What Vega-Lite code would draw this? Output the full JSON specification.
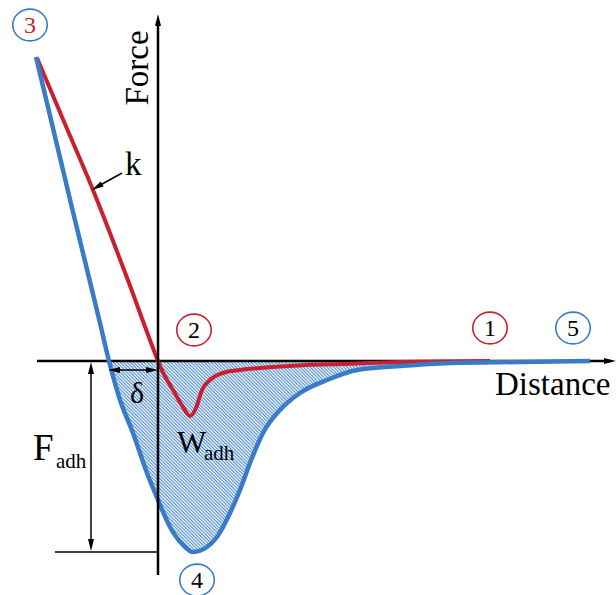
{
  "$schema": "https://vega.github.io/schema/vega-lite/v6.json",
  "width": 616,
  "height": 595,
  "padding": 0,
  "autosize": "none",
  "background": "white",
  "config": {"view": {"stroke": null}},
  "datasets": {
    "red": [
      {"x": -121, "y": 303}, {"x": -93, "y": 237}, {"x": -65, "y": 171}, {"x": -32, "y": 86},
      {"x": 0, "y": 0}, {"x": 2, "y": -5},
      {"x": 15, "y": -29}, {"x": 25, "y": -46}, {"x": 32, "y": -55}, {"x": 38, "y": -47},
      {"x": 44, "y": -29}, {"x": 52, "y": -19}, {"x": 65, "y": -12}, {"x": 82, "y": -9},
      {"x": 115, "y": -6}, {"x": 149, "y": -4}, {"x": 182, "y": -3}, {"x": 242, "y": -1},
      {"x": 332, "y": 0}
    ],
    "blue": [
      {"x": -122, "y": 304}, {"x": -85, "y": 149}, {"x": -58, "y": 38},
      {"x": -49, "y": 0}, {"x": -38, "y": -39}, {"x": -25, "y": -72}, {"x": -11, "y": -112},
      {"x": 0, "y": -139}, {"x": 12, "y": -166}, {"x": 25, "y": -184}, {"x": 35, "y": -191},
      {"x": 49, "y": -186}, {"x": 59, "y": -176}, {"x": 72, "y": -152}, {"x": 82, "y": -129},
      {"x": 92, "y": -102}, {"x": 105, "y": -72}, {"x": 122, "y": -49}, {"x": 142, "y": -32},
      {"x": 169, "y": -19}, {"x": 199, "y": -9}, {"x": 242, "y": -5}, {"x": 292, "y": -2},
      {"x": 362, "y": -1}, {"x": 432, "y": 0}
    ],
    "segments": [
      {"kind": "haxis", "x": -121, "y": 0, "x2": 452, "y2": 0},
      {"kind": "vaxis", "x": 0, "y": -214, "x2": 0, "y2": 340},
      {"kind": "note", "x": -36, "y": 188, "x2": -63, "y2": 173},
      {"kind": "note", "x": -44, "y": -9, "x2": -6, "y2": -9},
      {"kind": "note", "x": -67, "y": -7, "x2": -67, "y2": -184},
      {"kind": "note", "x": -103, "y": -191, "x2": 0, "y2": -191}
    ],
    "heads": [
      {"x": 452, "y": 0, "angle": 90},
      {"x": 0, "y": 341, "angle": 0},
      {"x": -61, "y": 174, "angle": 240},
      {"x": -44, "y": -9, "angle": 270},
      {"x": -6, "y": -9, "angle": 90},
      {"x": -67, "y": -7, "angle": 0},
      {"x": -67, "y": -184, "angle": 180}
    ],
    "circles": [
      {"n": "3", "x": -128, "y": 336, "ring": "retract", "ink": "approach"},
      {"n": "2", "x": 36, "y": 31, "ring": "approach", "ink": "plain"},
      {"n": "1", "x": 332, "y": 33, "ring": "approach", "ink": "plain"},
      {"n": "5", "x": 415, "y": 33, "ring": "retract", "ink": "plain"},
      {"n": "4", "x": 39, "y": -219, "ring": "retract", "ink": "plain"}
    ],
    "labels": [
      {"t": "Force", "x": -10, "y": 293, "role": "vertical"},
      {"t": "Distance", "x": 337, "y": -34, "role": "big"},
      {"t": "k", "x": -33, "y": 186, "role": "big"},
      {"t": "δ", "x": -28, "y": -42, "role": "delta"},
      {"t": "F", "x": -125, "y": -99, "role": "F"},
      {"t": "adh", "x": -102, "y": -107, "role": "sub"},
      {"t": "W", "x": 19, "y": -92, "role": "W"},
      {"t": "adh", "x": 46, "y": -99, "role": "sub"}
    ]
  },
  "encoding": {
    "x": {"field": "x", "type": "quantitative", "scale": {"domain": [-158, 458], "nice": false, "zero": false}, "axis": null},
    "y": {"field": "y", "type": "quantitative", "scale": {"domain": [-234, 361], "nice": false, "zero": false}, "axis": null}
  },
  "layer": [
    {
      "data": {"name": "blue"},
      "transform": [{"filter": "datum.x >= -49"}],
      "mark": {
        "type": "area",
        "interpolate": "monotone",
        "fill": {
          "gradient": "linear", "x1": 0, "y1": 1, "x2": 1.207, "y2": 0.518,
          "stops": [
            {"offset":0,"color":"#5590d2"},{"offset":0.0025,"color":"#fff"},{"offset":0.005,"color":"#5590d2"},{"offset":0.0075,"color":"#fff"},
            {"offset":0.01,"color":"#5590d2"},{"offset":0.0125,"color":"#fff"},{"offset":0.015,"color":"#5590d2"},{"offset":0.0175,"color":"#fff"},
            {"offset":0.02,"color":"#5590d2"},{"offset":0.0225,"color":"#fff"},{"offset":0.025,"color":"#5590d2"},{"offset":0.0275,"color":"#fff"},
            {"offset":0.03,"color":"#5590d2"},{"offset":0.0325,"color":"#fff"},{"offset":0.035,"color":"#5590d2"},{"offset":0.0375,"color":"#fff"},
            {"offset":0.04,"color":"#5590d2"},{"offset":0.0425,"color":"#fff"},{"offset":0.045,"color":"#5590d2"},{"offset":0.0475,"color":"#fff"},
            {"offset":0.05,"color":"#5590d2"},{"offset":0.0525,"color":"#fff"},{"offset":0.055,"color":"#5590d2"},{"offset":0.0575,"color":"#fff"},
            {"offset":0.06,"color":"#5590d2"},{"offset":0.0625,"color":"#fff"},{"offset":0.065,"color":"#5590d2"},{"offset":0.0675,"color":"#fff"},
            {"offset":0.07,"color":"#5590d2"},{"offset":0.0725,"color":"#fff"},{"offset":0.075,"color":"#5590d2"},{"offset":0.0775,"color":"#fff"},
            {"offset":0.08,"color":"#5590d2"},{"offset":0.0825,"color":"#fff"},{"offset":0.085,"color":"#5590d2"},{"offset":0.0875,"color":"#fff"},
            {"offset":0.09,"color":"#5590d2"},{"offset":0.0925,"color":"#fff"},{"offset":0.095,"color":"#5590d2"},{"offset":0.0975,"color":"#fff"},
            {"offset":0.10,"color":"#5590d2"},{"offset":0.1025,"color":"#fff"},{"offset":0.105,"color":"#5590d2"},{"offset":0.1075,"color":"#fff"},
            {"offset":0.11,"color":"#5590d2"},{"offset":0.1125,"color":"#fff"},{"offset":0.115,"color":"#5590d2"},{"offset":0.1175,"color":"#fff"},
            {"offset":0.12,"color":"#5590d2"},{"offset":0.1225,"color":"#fff"},{"offset":0.125,"color":"#5590d2"},{"offset":0.1275,"color":"#fff"},
            {"offset":0.13,"color":"#5590d2"},{"offset":0.1325,"color":"#fff"},{"offset":0.135,"color":"#5590d2"},{"offset":0.1375,"color":"#fff"},
            {"offset":0.14,"color":"#5590d2"},{"offset":0.1425,"color":"#fff"},{"offset":0.145,"color":"#5590d2"},{"offset":0.1475,"color":"#fff"},
            {"offset":0.15,"color":"#5590d2"},{"offset":0.1525,"color":"#fff"},{"offset":0.155,"color":"#5590d2"},{"offset":0.1575,"color":"#fff"},
            {"offset":0.16,"color":"#5590d2"},{"offset":0.1625,"color":"#fff"},{"offset":0.165,"color":"#5590d2"},{"offset":0.1675,"color":"#fff"},
            {"offset":0.17,"color":"#5590d2"},{"offset":0.1725,"color":"#fff"},{"offset":0.175,"color":"#5590d2"},{"offset":0.1775,"color":"#fff"},
            {"offset":0.18,"color":"#5590d2"},{"offset":0.1825,"color":"#fff"},{"offset":0.185,"color":"#5590d2"},{"offset":0.1875,"color":"#fff"},
            {"offset":0.19,"color":"#5590d2"},{"offset":0.1925,"color":"#fff"},{"offset":0.195,"color":"#5590d2"},{"offset":0.1975,"color":"#fff"},
            {"offset":0.20,"color":"#5590d2"},{"offset":0.2025,"color":"#fff"},{"offset":0.205,"color":"#5590d2"},{"offset":0.2075,"color":"#fff"},
            {"offset":0.21,"color":"#5590d2"},{"offset":0.2125,"color":"#fff"},{"offset":0.215,"color":"#5590d2"},{"offset":0.2175,"color":"#fff"},
            {"offset":0.22,"color":"#5590d2"},{"offset":0.2225,"color":"#fff"},{"offset":0.225,"color":"#5590d2"},{"offset":0.2275,"color":"#fff"},
            {"offset":0.23,"color":"#5590d2"},{"offset":0.2325,"color":"#fff"},{"offset":0.235,"color":"#5590d2"},{"offset":0.2375,"color":"#fff"},
            {"offset":0.24,"color":"#5590d2"},{"offset":0.2425,"color":"#fff"},{"offset":0.245,"color":"#5590d2"},{"offset":0.2475,"color":"#fff"},
            {"offset":0.25,"color":"#5590d2"},{"offset":0.2525,"color":"#fff"},{"offset":0.255,"color":"#5590d2"},{"offset":0.2575,"color":"#fff"},
            {"offset":0.26,"color":"#5590d2"},{"offset":0.2625,"color":"#fff"},{"offset":0.265,"color":"#5590d2"},{"offset":0.2675,"color":"#fff"},
            {"offset":0.27,"color":"#5590d2"},{"offset":0.2725,"color":"#fff"},{"offset":0.275,"color":"#5590d2"},{"offset":0.2775,"color":"#fff"},
            {"offset":0.28,"color":"#5590d2"},{"offset":0.2825,"color":"#fff"},{"offset":0.285,"color":"#5590d2"},{"offset":0.2875,"color":"#fff"},
            {"offset":0.29,"color":"#5590d2"},{"offset":0.2925,"color":"#fff"},{"offset":0.295,"color":"#5590d2"},{"offset":0.2975,"color":"#fff"},
            {"offset":0.30,"color":"#5590d2"},{"offset":0.3025,"color":"#fff"},{"offset":0.305,"color":"#5590d2"},{"offset":0.3075,"color":"#fff"},
            {"offset":0.31,"color":"#5590d2"},{"offset":0.3125,"color":"#fff"},{"offset":0.315,"color":"#5590d2"},{"offset":0.3175,"color":"#fff"},
            {"offset":0.32,"color":"#5590d2"},{"offset":0.3225,"color":"#fff"},{"offset":0.325,"color":"#5590d2"},{"offset":0.3275,"color":"#fff"},
            {"offset":0.33,"color":"#5590d2"},{"offset":0.3325,"color":"#fff"},{"offset":0.335,"color":"#5590d2"},{"offset":0.3375,"color":"#fff"},
            {"offset":0.34,"color":"#5590d2"},{"offset":0.3425,"color":"#fff"},{"offset":0.345,"color":"#5590d2"},{"offset":0.3475,"color":"#fff"},
            {"offset":0.35,"color":"#5590d2"},{"offset":0.3525,"color":"#fff"},{"offset":0.355,"color":"#5590d2"},{"offset":0.3575,"color":"#fff"},
            {"offset":0.36,"color":"#5590d2"},{"offset":0.3625,"color":"#fff"},{"offset":0.365,"color":"#5590d2"},{"offset":0.3675,"color":"#fff"},
            {"offset":0.37,"color":"#5590d2"},{"offset":0.3725,"color":"#fff"},{"offset":0.375,"color":"#5590d2"},{"offset":0.3775,"color":"#fff"},
            {"offset":0.38,"color":"#5590d2"},{"offset":0.3825,"color":"#fff"},{"offset":0.385,"color":"#5590d2"},{"offset":0.3875,"color":"#fff"},
            {"offset":0.39,"color":"#5590d2"},{"offset":0.3925,"color":"#fff"},{"offset":0.395,"color":"#5590d2"},{"offset":0.3975,"color":"#fff"},
            {"offset":0.40,"color":"#5590d2"},{"offset":0.4025,"color":"#fff"},{"offset":0.405,"color":"#5590d2"},{"offset":0.4075,"color":"#fff"},
            {"offset":0.41,"color":"#5590d2"},{"offset":0.4125,"color":"#fff"},{"offset":0.415,"color":"#5590d2"},{"offset":0.4175,"color":"#fff"},
            {"offset":0.42,"color":"#5590d2"},{"offset":0.4225,"color":"#fff"},{"offset":0.425,"color":"#5590d2"},{"offset":0.4275,"color":"#fff"},
            {"offset":0.43,"color":"#5590d2"},{"offset":0.4325,"color":"#fff"},{"offset":0.435,"color":"#5590d2"},{"offset":0.4375,"color":"#fff"},
            {"offset":0.44,"color":"#5590d2"},{"offset":0.4425,"color":"#fff"},{"offset":0.445,"color":"#5590d2"},{"offset":0.4475,"color":"#fff"},
            {"offset":0.45,"color":"#5590d2"},{"offset":0.4525,"color":"#fff"},{"offset":0.455,"color":"#5590d2"},{"offset":0.4575,"color":"#fff"},
            {"offset":0.46,"color":"#5590d2"},{"offset":0.4625,"color":"#fff"},{"offset":0.465,"color":"#5590d2"},{"offset":0.4675,"color":"#fff"},
            {"offset":0.47,"color":"#5590d2"},{"offset":0.4725,"color":"#fff"},{"offset":0.475,"color":"#5590d2"},{"offset":0.4775,"color":"#fff"},
            {"offset":0.48,"color":"#5590d2"},{"offset":0.4825,"color":"#fff"},{"offset":0.485,"color":"#5590d2"},{"offset":0.4875,"color":"#fff"},
            {"offset":0.49,"color":"#5590d2"},{"offset":0.4925,"color":"#fff"},{"offset":0.495,"color":"#5590d2"},{"offset":0.4975,"color":"#fff"},
            {"offset":0.50,"color":"#5590d2"},{"offset":0.5025,"color":"#fff"},{"offset":0.505,"color":"#5590d2"},{"offset":0.5075,"color":"#fff"},
            {"offset":0.51,"color":"#5590d2"},{"offset":0.5125,"color":"#fff"},{"offset":0.515,"color":"#5590d2"},{"offset":0.5175,"color":"#fff"},
            {"offset":0.52,"color":"#5590d2"},{"offset":0.5225,"color":"#fff"},{"offset":0.525,"color":"#5590d2"},{"offset":0.5275,"color":"#fff"},
            {"offset":0.53,"color":"#5590d2"},{"offset":0.5325,"color":"#fff"},{"offset":0.535,"color":"#5590d2"},{"offset":0.5375,"color":"#fff"},
            {"offset":0.54,"color":"#5590d2"},{"offset":0.5425,"color":"#fff"},{"offset":0.545,"color":"#5590d2"},{"offset":0.5475,"color":"#fff"},
            {"offset":0.55,"color":"#5590d2"},{"offset":0.5525,"color":"#fff"},{"offset":0.555,"color":"#5590d2"},{"offset":0.5575,"color":"#fff"},
            {"offset":0.56,"color":"#5590d2"},{"offset":0.5625,"color":"#fff"},{"offset":0.565,"color":"#5590d2"},{"offset":0.5675,"color":"#fff"},
            {"offset":0.57,"color":"#5590d2"},{"offset":0.5725,"color":"#fff"},{"offset":0.575,"color":"#5590d2"},{"offset":0.5775,"color":"#fff"},
            {"offset":0.58,"color":"#5590d2"},{"offset":0.5825,"color":"#fff"},{"offset":0.585,"color":"#5590d2"},{"offset":0.5875,"color":"#fff"},
            {"offset":0.59,"color":"#5590d2"},{"offset":0.5925,"color":"#fff"},{"offset":0.595,"color":"#5590d2"},{"offset":0.5975,"color":"#fff"},
            {"offset":0.60,"color":"#5590d2"},{"offset":0.6025,"color":"#fff"},{"offset":0.605,"color":"#5590d2"},{"offset":0.6075,"color":"#fff"},
            {"offset":0.61,"color":"#5590d2"},{"offset":0.6125,"color":"#fff"},{"offset":0.615,"color":"#5590d2"},{"offset":0.6175,"color":"#fff"},
            {"offset":0.62,"color":"#5590d2"},{"offset":0.6225,"color":"#fff"},{"offset":0.625,"color":"#5590d2"},{"offset":0.6275,"color":"#fff"},
            {"offset":0.63,"color":"#5590d2"},{"offset":0.6325,"color":"#fff"},{"offset":0.635,"color":"#5590d2"},{"offset":0.6375,"color":"#fff"},
            {"offset":0.64,"color":"#5590d2"},{"offset":0.6425,"color":"#fff"},{"offset":0.645,"color":"#5590d2"},{"offset":0.6475,"color":"#fff"},
            {"offset":0.65,"color":"#5590d2"},{"offset":0.6525,"color":"#fff"},{"offset":0.655,"color":"#5590d2"},{"offset":0.6575,"color":"#fff"},
            {"offset":0.66,"color":"#5590d2"},{"offset":0.6625,"color":"#fff"},{"offset":0.665,"color":"#5590d2"},{"offset":0.6675,"color":"#fff"},
            {"offset":0.67,"color":"#5590d2"},{"offset":0.6725,"color":"#fff"},{"offset":0.675,"color":"#5590d2"},{"offset":0.6775,"color":"#fff"},
            {"offset":0.68,"color":"#5590d2"},{"offset":0.6825,"color":"#fff"},{"offset":0.685,"color":"#5590d2"},{"offset":0.6875,"color":"#fff"},
            {"offset":0.69,"color":"#5590d2"},{"offset":0.6925,"color":"#fff"},{"offset":0.695,"color":"#5590d2"},{"offset":0.6975,"color":"#fff"},
            {"offset":0.70,"color":"#5590d2"},{"offset":0.7025,"color":"#fff"},{"offset":0.705,"color":"#5590d2"},{"offset":0.7075,"color":"#fff"},
            {"offset":0.71,"color":"#5590d2"},{"offset":0.7125,"color":"#fff"},{"offset":0.715,"color":"#5590d2"},{"offset":0.7175,"color":"#fff"},
            {"offset":0.72,"color":"#5590d2"},{"offset":0.7225,"color":"#fff"},{"offset":0.725,"color":"#5590d2"},{"offset":0.7275,"color":"#fff"},
            {"offset":0.73,"color":"#5590d2"},{"offset":0.7325,"color":"#fff"},{"offset":0.735,"color":"#5590d2"},{"offset":0.7375,"color":"#fff"},
            {"offset":0.74,"color":"#5590d2"},{"offset":0.7425,"color":"#fff"},{"offset":0.745,"color":"#5590d2"},{"offset":0.7475,"color":"#fff"},
            {"offset":0.75,"color":"#5590d2"},{"offset":0.7525,"color":"#fff"},{"offset":0.755,"color":"#5590d2"},{"offset":0.7575,"color":"#fff"},
            {"offset":0.76,"color":"#5590d2"},{"offset":0.7625,"color":"#fff"},{"offset":0.765,"color":"#5590d2"},{"offset":0.7675,"color":"#fff"},
            {"offset":0.77,"color":"#5590d2"},{"offset":0.7725,"color":"#fff"},{"offset":0.775,"color":"#5590d2"},{"offset":0.7775,"color":"#fff"},
            {"offset":0.78,"color":"#5590d2"},{"offset":0.7825,"color":"#fff"},{"offset":0.785,"color":"#5590d2"},{"offset":0.7875,"color":"#fff"},
            {"offset":0.79,"color":"#5590d2"},{"offset":0.7925,"color":"#fff"},{"offset":0.795,"color":"#5590d2"},{"offset":0.7975,"color":"#fff"},
            {"offset":0.80,"color":"#5590d2"},{"offset":0.8025,"color":"#fff"},{"offset":0.805,"color":"#5590d2"},{"offset":0.8075,"color":"#fff"},
            {"offset":0.81,"color":"#5590d2"},{"offset":0.8125,"color":"#fff"},{"offset":0.815,"color":"#5590d2"},{"offset":0.8175,"color":"#fff"},
            {"offset":0.82,"color":"#5590d2"},{"offset":0.8225,"color":"#fff"},{"offset":0.825,"color":"#5590d2"},{"offset":0.8275,"color":"#fff"},
            {"offset":0.83,"color":"#5590d2"},{"offset":0.8325,"color":"#fff"},{"offset":0.835,"color":"#5590d2"},{"offset":0.8375,"color":"#fff"},
            {"offset":0.84,"color":"#5590d2"},{"offset":0.8425,"color":"#fff"},{"offset":0.845,"color":"#5590d2"},{"offset":0.8475,"color":"#fff"},
            {"offset":0.85,"color":"#5590d2"},{"offset":0.8525,"color":"#fff"},{"offset":0.855,"color":"#5590d2"},{"offset":0.8575,"color":"#fff"},
            {"offset":0.86,"color":"#5590d2"},{"offset":0.8625,"color":"#fff"},{"offset":0.865,"color":"#5590d2"},{"offset":0.8675,"color":"#fff"},
            {"offset":0.87,"color":"#5590d2"},{"offset":0.8725,"color":"#fff"},{"offset":0.875,"color":"#5590d2"},{"offset":0.8775,"color":"#fff"},
            {"offset":0.88,"color":"#5590d2"},{"offset":0.8825,"color":"#fff"},{"offset":0.885,"color":"#5590d2"},{"offset":0.8875,"color":"#fff"},
            {"offset":0.89,"color":"#5590d2"},{"offset":0.8925,"color":"#fff"},{"offset":0.895,"color":"#5590d2"},{"offset":0.8975,"color":"#fff"},
            {"offset":0.90,"color":"#5590d2"},{"offset":0.9025,"color":"#fff"},{"offset":0.905,"color":"#5590d2"},{"offset":0.9075,"color":"#fff"},
            {"offset":0.91,"color":"#5590d2"},{"offset":0.9125,"color":"#fff"},{"offset":0.915,"color":"#5590d2"},{"offset":0.9175,"color":"#fff"},
            {"offset":0.92,"color":"#5590d2"},{"offset":0.9225,"color":"#fff"},{"offset":0.925,"color":"#5590d2"},{"offset":0.9275,"color":"#fff"},
            {"offset":0.93,"color":"#5590d2"},{"offset":0.9325,"color":"#fff"},{"offset":0.935,"color":"#5590d2"},{"offset":0.9375,"color":"#fff"},
            {"offset":0.94,"color":"#5590d2"},{"offset":0.9425,"color":"#fff"},{"offset":0.945,"color":"#5590d2"},{"offset":0.9475,"color":"#fff"},
            {"offset":0.95,"color":"#5590d2"},{"offset":0.9525,"color":"#fff"},{"offset":0.955,"color":"#5590d2"},{"offset":0.9575,"color":"#fff"},
            {"offset":0.96,"color":"#5590d2"},{"offset":0.9625,"color":"#fff"},{"offset":0.965,"color":"#5590d2"},{"offset":0.9675,"color":"#fff"},
            {"offset":0.97,"color":"#5590d2"},{"offset":0.9725,"color":"#fff"},{"offset":0.975,"color":"#5590d2"},{"offset":0.9775,"color":"#fff"},
            {"offset":0.98,"color":"#5590d2"},{"offset":0.9825,"color":"#fff"},{"offset":0.985,"color":"#5590d2"},{"offset":0.9875,"color":"#fff"},
            {"offset":0.99,"color":"#5590d2"},{"offset":0.9925,"color":"#fff"},{"offset":0.995,"color":"#5590d2"},{"offset":0.9975,"color":"#fff"},
            {"offset":1,"color":"#5590d2"}
          ]
        }
      },
      "encoding": {"y2": {"datum": 0}}
    },
    {
      "data": {"name": "segments"},
      "transform": [{"filter": "datum.kind == 'haxis'"}],
      "mark": {"type": "rule", "color": "#000000", "strokeWidth": 2.5},
      "encoding": {"x2": {"field": "x2"}, "y2": {"field": "y2"}}
    },
    {
      "data": {"name": "red"},
      "mark": {"type": "line", "color": "#c8202e", "strokeWidth": 4, "interpolate": "monotone", "strokeJoin": "round", "strokeCap": "butt"},
      "encoding": {}
    },
    {
      "data": {"name": "blue"},
      "mark": {"type": "line", "color": "#3a7bc8", "strokeWidth": 4.5, "interpolate": "monotone", "strokeJoin": "round"},
      "encoding": {}
    },
    {
      "data": {"name": "segments"},
      "transform": [{"filter": "datum.kind == 'vaxis'"}],
      "mark": {"type": "rule", "color": "#000000", "strokeWidth": 2.5},
      "encoding": {"x2": {"field": "x2"}, "y2": {"field": "y2"}}
    },
    {
      "data": {"name": "segments"},
      "transform": [{"filter": "datum.kind == 'note'"}],
      "mark": {"type": "rule", "color": "#000000", "strokeWidth": 1.5},
      "encoding": {"x2": {"field": "x2"}, "y2": {"field": "y2"}}
    },
    {
      "data": {"name": "heads"},
      "mark": {"type": "point", "shape": "M0,-1L0.5,1L-0.5,1Z", "filled": true, "color": "#000000", "size": 144, "opacity": 1},
      "encoding": {"angle": {"field": "angle", "type": "quantitative", "scale": null}}
    },
    {
      "data": {"name": "circles"},
      "mark": {"type": "point", "shape": "M-1,0A1,0.92 0 1,1 1,0A1,0.92 0 1,1 -1,0Z", "filled": false, "size": 1190, "strokeWidth": 1.6, "opacity": 1},
      "encoding": {
        "color": {"field": "ring", "type": "nominal", "scale": {"domain": ["approach", "retract", "plain"], "range": ["#c8202e", "#3a7bc8", "#000000"]}, "legend": null}
      }
    },
    {
      "data": {"name": "circles"},
      "mark": {"type": "text", "font": "Liberation Serif", "fontSize": 24, "align": "center", "baseline": "middle", "dy": 1},
      "encoding": {
        "text": {"field": "n"},
        "color": {"field": "ink", "type": "nominal", "scale": {"domain": ["approach", "retract", "plain"], "range": ["#c8202e", "#3a7bc8", "#000000"]}, "legend": null}
      }
    },
    {
      "data": {"name": "labels"},
      "transform": [{"filter": "datum.role == 'vertical'"}],
      "mark": {"type": "text", "font": "Liberation Serif", "fontSize": 33, "align": "center", "baseline": "alphabetic", "angle": 270, "color": "#000000"},
      "encoding": {"text": {"field": "t"}}
    },
    {
      "data": {"name": "labels"},
      "transform": [{"filter": "datum.role == 'big'"}],
      "mark": {"type": "text", "font": "Liberation Serif", "fontSize": 33, "align": "left", "baseline": "alphabetic", "color": "#000000"},
      "encoding": {"text": {"field": "t"}}
    },
    {
      "data": {"name": "labels"},
      "transform": [{"filter": "datum.role == 'delta'"}],
      "mark": {"type": "text", "font": "Liberation Serif", "fontSize": 30, "align": "left", "baseline": "alphabetic", "color": "#000000"},
      "encoding": {"text": {"field": "t"}}
    },
    {
      "data": {"name": "labels"},
      "transform": [{"filter": "datum.role == 'F'"}],
      "mark": {"type": "text", "font": "Liberation Serif", "fontSize": 37, "align": "left", "baseline": "alphabetic", "color": "#000000"},
      "encoding": {"text": {"field": "t"}}
    },
    {
      "data": {"name": "labels"},
      "transform": [{"filter": "datum.role == 'W'"}],
      "mark": {"type": "text", "font": "Liberation Serif", "fontSize": 31, "align": "left", "baseline": "alphabetic", "color": "#000000"},
      "encoding": {"text": {"field": "t"}}
    },
    {
      "data": {"name": "labels"},
      "transform": [{"filter": "datum.role == 'sub'"}],
      "mark": {"type": "text", "font": "Liberation Serif", "fontSize": 21, "align": "left", "baseline": "alphabetic", "color": "#000000"},
      "encoding": {"text": {"field": "t"}}
    }
  ]
}
